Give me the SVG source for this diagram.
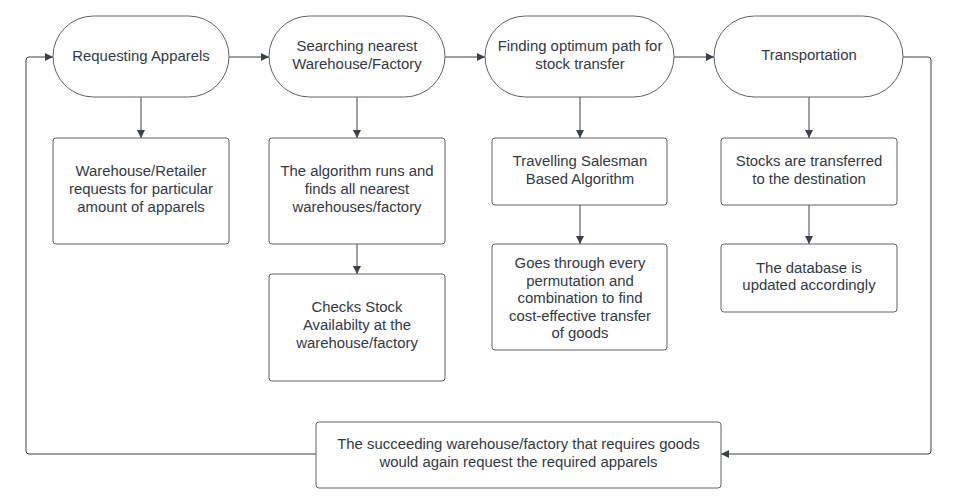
<svg xmlns="http://www.w3.org/2000/svg" width="953" height="501" viewBox="0 0 953 501">
<style>
.n{fill:#ffffff;stroke:#5f6368;stroke-width:1}
.t{font-family:"Liberation Sans",Arial,sans-serif;font-size:14.9px;fill:#333a45;text-anchor:middle}
.c{fill:none;stroke:#3a414a;stroke-width:1}
</style>
<defs>
<marker id="ah" viewBox="0 0 10 10" refX="10" refY="5" markerWidth="10" markerHeight="8" markerUnits="userSpaceOnUse" orient="auto">
<path d="M0,0 L10,5 L0,10 z" fill="#3a414a"/>
</marker>
</defs>
<rect width="953" height="501" fill="#ffffff"/>
<g id="connectors">
<path class="c" d="M229,57 H269" marker-end="url(#ah)"/>
<path class="c" d="M445,57 H485" marker-end="url(#ah)"/>
<path class="c" d="M674,57 H714" marker-end="url(#ah)"/>
<path class="c" d="M141,97 V138" marker-end="url(#ah)"/>
<path class="c" d="M357,97 V138" marker-end="url(#ah)"/>
<path class="c" d="M580,97 V138" marker-end="url(#ah)"/>
<path class="c" d="M809,97 V138" marker-end="url(#ah)"/>
<path class="c" d="M357,244 V274" marker-end="url(#ah)"/>
<path class="c" d="M580,205 V244" marker-end="url(#ah)"/>
<path class="c" d="M809,205 V244" marker-end="url(#ah)"/>
<path class="c" d="M903,57 H928 Q931,57 931,60 V451 Q931,454 928,454 H721" marker-end="url(#ah)"/>
<path class="c" d="M316,454 H29 Q26,454 26,451 V60 Q26,57 29,57 H53" marker-end="url(#ah)"/>
</g>
<g id="n1"><rect class="n" x="53" y="16" width="176" height="81" rx="40.5"/><text class="t" x="141" y="61">Requesting Apparels</text></g>
<g id="n2"><rect class="n" x="269" y="16" width="176" height="81" rx="40.5"/><text class="t" x="357" y="51">Searching nearest</text><text class="t" x="357" y="69">Warehouse/Factory</text></g>
<g id="n3"><rect class="n" x="485" y="16" width="189" height="81" rx="40.5"/><text class="t" x="580" y="51">Finding optimum path for</text><text class="t" x="580" y="69">stock transfer</text></g>
<g id="n4"><rect class="n" x="714" y="16" width="189" height="81" rx="40.5"/><text class="t" x="809" y="60">Transportation</text></g>
<g id="b1"><rect class="n" x="53" y="138" width="176" height="106" rx="3"/><text class="t" x="141" y="176">Warehouse/Retailer</text><text class="t" x="141" y="194">requests for particular</text><text class="t" x="141" y="212">amount of apparels</text></g>
<g id="b2"><rect class="n" x="269" y="138" width="176" height="106" rx="3"/><text class="t" x="357" y="176">The algorithm runs and</text><text class="t" x="357" y="194">finds all nearest</text><text class="t" x="357" y="212">warehouses/factory</text></g>
<g id="b2b"><rect class="n" x="269" y="274" width="176" height="107" rx="3"/><text class="t" x="357" y="312">Checks Stock</text><text class="t" x="357" y="330">Availabilty at the</text><text class="t" x="357" y="348">warehouse/factory</text></g>
<g id="b3"><rect class="n" x="492" y="138" width="175" height="67" rx="3"/><text class="t" x="580" y="166">Travelling Salesman</text><text class="t" x="580" y="184">Based Algorithm</text></g>
<g id="b3b"><rect class="n" x="492" y="244" width="175" height="106" rx="3"/><text class="t" x="580" y="268">Goes through every</text><text class="t" x="580" y="285.5">permutation and</text><text class="t" x="580" y="303">combination to find</text><text class="t" x="580" y="320.5">cost-effective transfer</text><text class="t" x="580" y="338">of goods</text></g>
<g id="b4"><rect class="n" x="721" y="138" width="176" height="67" rx="3"/><text class="t" x="809" y="166">Stocks are transferred</text><text class="t" x="809" y="184">to the destination</text></g>
<g id="b4b"><rect class="n" x="721" y="244" width="176" height="68" rx="3"/><text class="t" x="809" y="273">The database is</text><text class="t" x="809" y="290">updated accordingly</text></g>
<g id="b5"><rect class="n" x="316" y="422" width="405" height="66" rx="3"/><text class="t" x="518.5" y="449">The succeeding warehouse/factory that requires goods</text><text class="t" x="518.5" y="467">would again request the required apparels</text></g>
</svg>
